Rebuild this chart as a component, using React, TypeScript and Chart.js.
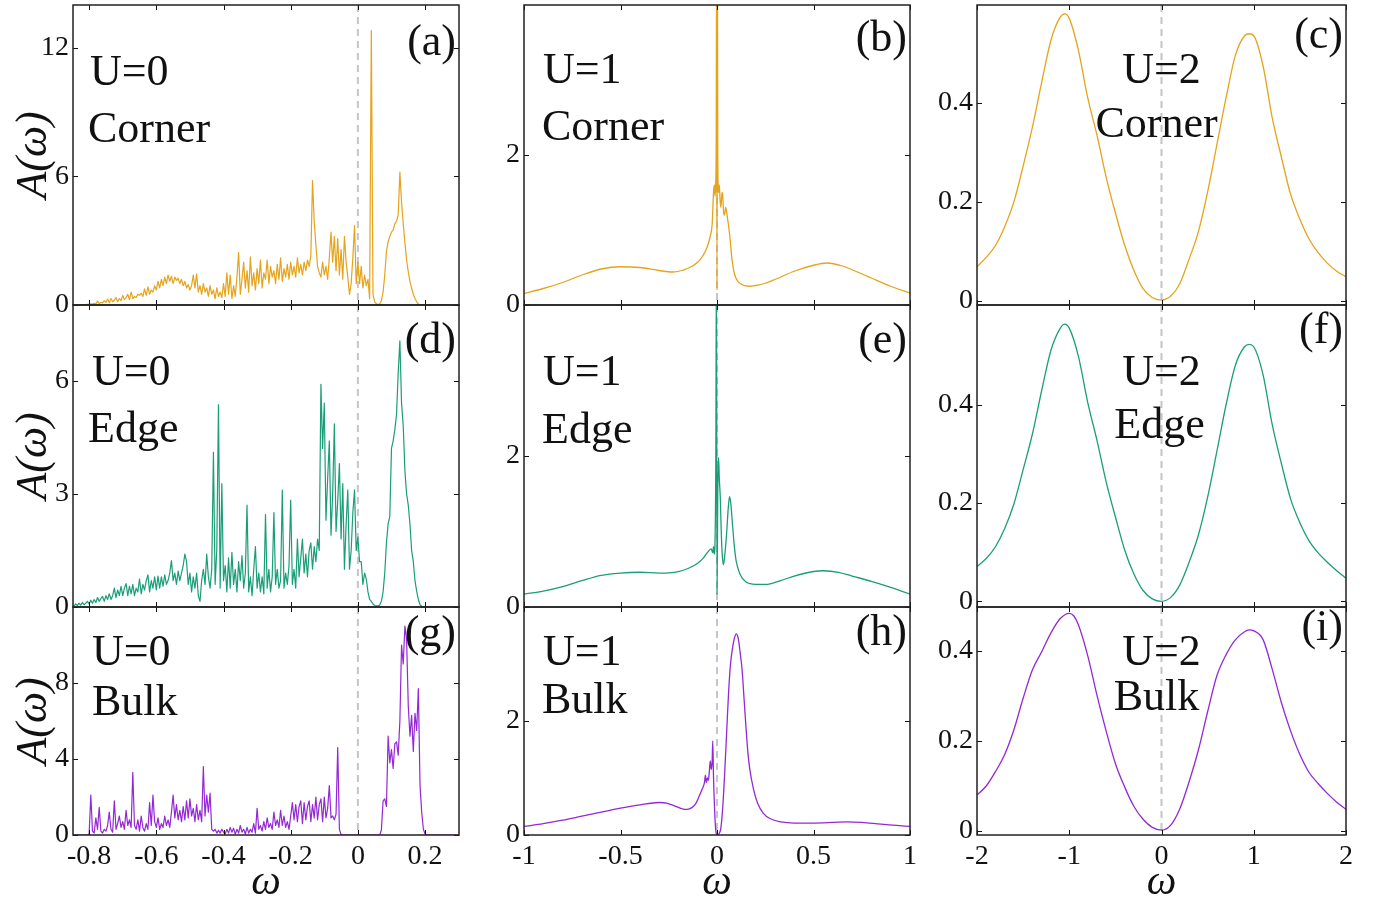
import React, { useEffect, useRef } from 'react';
import { Chart, registerables } from 'chart.js';

Chart.register(...registerables);

const FONT = "'Liberation Serif', 'Times New Roman', Times, serif";
const INK = '#111111';
const GOLD = '#E6A31C';
const GREEN = '#1B9E77';
const PURPLE = '#9428D6';

// ---------------- axis ticks ----------------
const X_TICKS_U0 = [-0.8, -0.6, -0.4, -0.2, 0, 0.2];
const X_LABELS_U0 = ['-0.8', '-0.6', '-0.4', '-0.2', '0', '0.2'];
const X_TICKS_U1 = [-1, -0.5, 0, 0.5, 1];
const X_LABELS_U1 = ['-1', '-0.5', '0', '0.5', '1'];
const X_TICKS_U2 = [-2, -1, 0, 1, 2];
const X_LABELS_U2 = ['-2', '-1', '0', '1', '2'];

const X_RANGE_U0 = [-0.848, 0.301];
const X_RANGE_U1 = [-1, 1];
const X_RANGE_U2 = [-2, 2];

const Y_TICKS_A = [0, 6, 12];
const Y_TICKS_D = [0, 3, 6];
const Y_TICKS_G = [0, 4, 8];
const Y_TICKS_U1 = [0, 2];
const Y_TICKS_U2 = [0, 0.2, 0.4];
const Y_LABELS_U2 = ['0', '0.2', '0.4'];

// ---------------- U = 0 spectra (sampled every 0.005 from each segment start) ----------------
const OMEGA_STEP_U0 = 0.005;

const A_CORNER_U0: [number, number[]][] = [
  [-0.85, [0, 0, 0, 0, 0, 0.01, 0.01, 0.02, 0.02, 0.03, 0.03, 0.05, 0.04, 0.08, 0.05, 0.18, 0.06, 0.12, 0.1, 0.2]],
  [-0.75, [0.12, 0.28, 0.1, 0.3, 0.15, 0.22, 0.35, 0.15, 0.3, 0.2, 0.45, 0.25, 0.35, 0.5, 0.25, 0.6, 0.3, 0.4, 0.35, 0.5]],
  [-0.65, [0.45, 0.55, 0.4, 0.75, 0.45, 0.85, 0.5, 0.7, 0.6, 0.9, 0.7, 1.1, 0.8, 1.2, 0.9, 1.3, 1.0, 1.4, 1.1, 1.35]],
  [-0.55, [1.0, 1.3, 1.15, 1.25, 1.0, 1.2, 0.9, 1.1, 0.8, 0.95, 0.7, 0.9, 1.4, 0.8, 1.45, 0.6, 0.9, 0.5, 1.0, 0.6]],
  [-0.45, [0.8, 0.4, 0.9, 0.5, 0.7, 0.3, 0.8, 0.4, 0.6, 0.35, 1.0, 0.4, 1.5, 0.5, 1.4, 0.3, 0.9, 0.4, 1.3, 2.45]],
  [-0.35, [0.5, 1.2, 2.0, 0.8, 1.6, 0.6, 2.25, 0.9, 1.5, 0.7, 1.7, 1.0, 2.1, 0.8, 1.5, 1.2, 2.1, 1.0, 1.8, 1.3]],
  [-0.25, [1.6, 1.0, 1.9, 1.2, 2.2, 1.1, 1.7, 1.3, 1.9, 1.2, 2.0, 1.4, 1.8, 1.3, 2.2, 1.5, 1.9, 1.4, 2.0, 1.6]],
  [-0.15, [2.1, 1.8, 2.3, 5.8, 3.9, 2.8, 1.8, 1.5, 1.3, 2.0, 1.4, 1.8, 1.2, 2.2, 3.4, 2.0, 3.2, 1.6, 3.1, 1.4]],
  [-0.05, [2.6, 1.2, 3.2, 2.0, 1.3, 0.5, 1.0, 2.2, 3.7, 1.0, 2.0, 1.0, 1.8, 0.8, 1.4, 0.9, 1.2, 0.3, 12.8, 0.5]],
  [0.05, [0.15, 0.06, 0.03, 0.05, 0.2, 0.6, 1.4, 2.5, 2.95, 3.2, 3.4, 3.5, 3.8, 3.9, 4.2, 6.2, 4.8, 3.8, 2.9, 2.1]],
  [0.15, [1.55, 1.1, 0.78, 0.5, 0.3, 0.15, 0.05, 0.01, 0, 0, 0, 0, 0, 0, 0, 0, 0, 0, 0, 0]],
  [0.25, [0, 0, 0, 0, 0, 0, 0, 0, 0, 0, 0]],
];

const A_EDGE_U0: [number, number[]][] = [
  [-0.85, [0.05, 0.03, 0.08, 0.04, 0.1, 0.05, 0.12, 0.06, 0.1, 0.15, 0.08, 0.18, 0.1, 0.2, 0.12, 0.25, 0.15, 0.22, 0.28, 0.15]],
  [-0.75, [0.3, 0.2, 0.35, 0.2, 0.3, 0.5, 0.25, 0.45, 0.3, 0.55, 0.3, 0.5, 0.62, 0.3, 0.55, 0.35, 0.6, 0.3, 0.5, 0.4]],
  [-0.65, [0.74, 0.35, 0.6, 0.45, 0.7, 0.85, 0.4, 0.7, 0.5, 0.8, 0.45, 0.82, 0.5, 0.8, 0.55, 0.85, 0.6, 0.7, 0.9, 1.23]],
  [-0.55, [0.7, 0.9, 0.6, 0.95, 0.7, 0.9, 1.1, 1.4, 1.2, 0.6, 0.9, 0.4, 0.8, 0.5, 0.9, 0.3, 0.15, 0.7, 1.0, 0.6]],
  [-0.45, [1.4, 0.8, 0.5, 1.0, 4.1, 0.6, 1.5, 5.36, 0.5, 3.27, 0.7, 1.1, 0.4, 1.3, 0.5, 1.45, 0.6, 1.0, 0.4, 1.2]],
  [-0.35, [0.7, 1.36, 0.5, 0.9, 2.7, 0.4, 0.8, 0.3, 1.0, 1.6, 0.5, 0.9, 0.4, 0.8, 0.35, 2.45, 0.5, 1.0, 0.4, 0.8]],
  [-0.25, [2.5, 0.6, 1.0, 0.5, 0.7, 3.1, 0.5, 0.9, 0.6, 1.1, 2.83, 0.6, 1.0, 0.5, 1.8, 0.8, 1.3, 1.8, 0.9, 1.4]],
  [-0.15, [0.8, 1.5, 1.7, 1.0, 1.6, 1.2, 1.8, 1.5, 5.9, 4.2, 5.4, 2.3, 3.4, 4.4, 1.9, 3.0, 4.85, 2.0, 2.8, 3.8]],
  [-0.05, [1.8, 3.27, 1.0, 2.2, 3.1, 1.0, 1.5, 2.5, 3.1, 1.5, 1.85, 1.2, 1.2, 0.6, 0.9, 0.74, 0.4, 0.2, 0.15, 0.08]],
  [0.05, [0.04, 0.03, 0.03, 0.05, 0.15, 0.4, 0.9, 1.7, 2.2, 2.4, 4.2, 4.4, 4.7, 5.1, 6.2, 7.05, 5.4, 4.8, 3.6, 3.0]],
  [0.15, [2.7, 2.2, 1.5, 1.2, 0.7, 0.42, 0.2, 0.06, 0.02, 0.01, 0, 0, 0, 0, 0, 0, 0, 0, 0, 0]],
  [0.25, [0, 0, 0, 0, 0, 0, 0, 0, 0, 0, 0]],
];

const A_BULK_U0: [number, number[]][] = [
  [-0.85, [0, 0, 0, 0, 0, 0, 0, 0, 0, 0, 0.05, 2.1, 0.2, 0.1, 0.9, 0.3, 1.45, 0.2, 0.1, 0.3]],
  [-0.75, [0.2, 0.5, 1.2, 0.3, 0.15, 1.8, 0.3, 0.6, 1.0, 0.4, 0.7, 0.3, 1.3, 0.5, 0.8, 0.4, 3.3, 0.5, 0.3, 0.8]],
  [-0.65, [0.2, 1.0, 0.4, 0.2, 0.6, 0.3, 1.7, 0.5, 2.1, 0.7, 0.4, 0.9, 0.3, 0.6, 0.4, 1.0, 0.5, 0.8, 0.4, 1.2]],
  [-0.55, [2.1, 0.9, 1.6, 0.8, 1.3, 0.7, 1.5, 0.8, 1.8, 0.9, 1.9, 1.0, 1.4, 0.7, 1.6, 0.8, 1.3, 0.7, 3.6, 1.0]],
  [-0.45, [2.1, 1.2, 2.2, 0.3, 0.2, 0.3, 0.1, 0.25, 0.1, 0.3, 0.15, 0.05, 0.3, 0.1, 0.4, 0.15, 0.35, 0.05, 0.3, 0.1]],
  [-0.35, [0.5, 0.15, 0.3, 0.05, 0.4, 0.1, 0.3, 0.15, 0.6, 0.1, 1.4, 0.3, 0.5, 0.2, 0.7, 0.3, 0.9, 0.4, 0.6, 0.3]],
  [-0.25, [1.2, 0.5, 0.8, 0.4, 1.3, 0.5, 1.0, 0.4, 0.7, 0.3, 1.0, 1.7, 0.8, 1.6, 0.7, 1.5, 1.8, 0.6, 1.7, 0.8]],
  [-0.15, [1.5, 1.8, 0.7, 1.6, 0.9, 2.0, 0.8, 1.6, 1.9, 0.7, 2.0, 0.9, 1.4, 2.6, 0.9, 1.0, 0.8, 1.1, 4.6, 0.3]],
  [-0.05, [0.02, 0, 0, 0, 0, 0, 0, 0, 0, 0, 0, 0, 0, 0, 0, 0, 0, 0, 0, 0]],
  [0.05, [0, 0, 0, 0, 0.26, 1.8, 1.9, 1.5, 5.2, 3.8, 4.5, 3.5, 4.8, 4.9, 4.2, 6.0, 10.0, 9.0, 11.0, 10.3]],
  [0.15, [6.8, 5.2, 6.3, 4.4, 6.4, 5.5, 7.7, 2.6, 1.2, 0.3, 0.05, 0, 0, 0, 0, 0, 0, 0, 0, 0]],
  [0.25, [0, 0, 0, 0, 0, 0, 0, 0, 0, 0, 0]],
];

// ---------------- U = 1 spectra: [omega, A] ----------------
const A_CORNER_U1: [number, number][] = [
  [-1, 0.155], [-0.9, 0.22], [-0.8, 0.3], [-0.7, 0.4], [-0.6, 0.48], [-0.5, 0.51], [-0.4, 0.5], [-0.3, 0.46],
  [-0.23, 0.44], [-0.15, 0.49], [-0.1, 0.57], [-0.07, 0.67], [-0.05, 0.78], [-0.035, 0.92], [-0.025, 1.08],
  [-0.018, 1.5], [-0.014, 1.6], [-0.01, 1.45], [-0.007, 1.6], [-0.004, 2.2], [-0.002, 4.6], [0, 0.2],
  [0.002, 4.6], [0.004, 2.0], [0.008, 1.5], [0.012, 1.6], [0.016, 1.4], [0.02, 1.3], [0.026, 1.5], [0.03, 1.45],
  [0.035, 1.2], [0.04, 1.22], [0.045, 1.3], [0.052, 1.2], [0.065, 0.95], [0.078, 0.6], [0.09, 0.42],
  [0.104, 0.33], [0.13, 0.27], [0.17, 0.25], [0.2, 0.26], [0.25, 0.29], [0.3, 0.34], [0.4, 0.45], [0.5, 0.53],
  [0.57, 0.56], [0.65, 0.52], [0.7, 0.47], [0.8, 0.36], [0.9, 0.25], [1, 0.16],
];

const A_EDGE_U1: [number, number][] = [
  [-1, 0.17], [-0.9, 0.21], [-0.8, 0.27], [-0.7, 0.35], [-0.6, 0.42], [-0.5, 0.45], [-0.4, 0.46], [-0.3, 0.45],
  [-0.2, 0.47], [-0.15, 0.51], [-0.1, 0.58], [-0.07, 0.65], [-0.05, 0.72], [-0.03, 0.77], [-0.022, 0.72],
  [-0.018, 0.8], [-0.014, 0.7], [-0.01, 0.9], [-0.006, 2.0], [-0.003, 4.6], [0, 0.17], [0.004, 1.5],
  [0.008, 1.98], [0.012, 1.7], [0.017, 1.45], [0.022, 1.0], [0.027, 0.7], [0.033, 0.56], [0.04, 0.68],
  [0.05, 0.98], [0.058, 1.3], [0.065, 1.46], [0.072, 1.36], [0.08, 1.1], [0.09, 0.8], [0.1, 0.6], [0.12, 0.43],
  [0.15, 0.33], [0.2, 0.3], [0.26, 0.3], [0.33, 0.35], [0.4, 0.41], [0.5, 0.47], [0.55, 0.48], [0.63, 0.46],
  [0.7, 0.41], [0.8, 0.34], [0.9, 0.26], [1, 0.17],
];

const A_BULK_U1: [number, number][] = [
  [-1, 0.15], [-0.9, 0.2], [-0.8, 0.26], [-0.7, 0.33], [-0.6, 0.4], [-0.5, 0.47], [-0.4, 0.53], [-0.3, 0.57],
  [-0.26, 0.56], [-0.22, 0.51], [-0.18, 0.46], [-0.155, 0.45], [-0.13, 0.48], [-0.11, 0.55], [-0.09, 0.7],
  [-0.075, 0.82], [-0.065, 0.92], [-0.06, 1.05], [-0.055, 0.92], [-0.05, 1.0], [-0.045, 0.96], [-0.04, 1.1],
  [-0.035, 1.3], [-0.03, 1.15], [-0.025, 1.3], [-0.022, 1.65], [-0.018, 1.0], [-0.013, 0.5], [-0.008, 0.15],
  [-0.003, 0.02], [0.005, 0], [0.012, 0.03], [0.02, 0.12], [0.03, 0.5], [0.04, 1.1], [0.05, 1.8], [0.06, 2.5],
  [0.07, 3.0], [0.08, 3.27], [0.09, 3.45], [0.1, 3.53], [0.11, 3.45], [0.12, 3.2], [0.13, 2.9], [0.14, 2.4],
  [0.15, 1.9], [0.16, 1.45], [0.17, 1.15], [0.19, 0.79], [0.21, 0.56], [0.24, 0.38], [0.28, 0.28], [0.33, 0.23],
  [0.4, 0.21], [0.5, 0.21], [0.6, 0.22], [0.67, 0.23], [0.75, 0.22], [0.85, 0.19], [0.93, 0.17], [1, 0.15],
];

// ---------------- U = 2 spectra: [omega, A] ----------------
const A_CORNER_U2: [number, number][] = [
  [-2, 0.069], [-1.9, 0.088], [-1.8, 0.112], [-1.7, 0.15], [-1.6, 0.2], [-1.5, 0.272], [-1.4, 0.35], [-1.3, 0.44],
  [-1.2, 0.525], [-1.1, 0.572], [-1.05, 0.579], [-1, 0.57], [-0.9, 0.505], [-0.8, 0.41], [-0.7, 0.335],
  [-0.6, 0.25], [-0.5, 0.178], [-0.4, 0.113], [-0.3, 0.062], [-0.2, 0.025], [-0.1, 0.007], [0, 0.002],
  [0.1, 0.01], [0.2, 0.036], [0.3, 0.085], [0.4, 0.14], [0.5, 0.22], [0.6, 0.315], [0.7, 0.41], [0.8, 0.495],
  [0.9, 0.535], [0.95, 0.539], [1, 0.535], [1.1, 0.475], [1.2, 0.37], [1.3, 0.29], [1.4, 0.215], [1.5, 0.165],
  [1.6, 0.125], [1.7, 0.097], [1.8, 0.076], [1.9, 0.06], [2, 0.049],
];

const A_EDGE_U2: [number, number][] = [
  [-2, 0.071], [-1.9, 0.087], [-1.8, 0.111], [-1.7, 0.148], [-1.6, 0.198], [-1.5, 0.268], [-1.4, 0.34], [-1.3, 0.428],
  [-1.2, 0.51], [-1.1, 0.555], [-1.05, 0.564], [-1, 0.556], [-0.9, 0.498], [-0.8, 0.405], [-0.7, 0.328],
  [-0.6, 0.243], [-0.5, 0.172], [-0.4, 0.105], [-0.3, 0.056], [-0.2, 0.022], [-0.1, 0.005], [0, 0],
  [0.1, 0.008], [0.2, 0.034], [0.3, 0.08], [0.4, 0.135], [0.5, 0.212], [0.6, 0.305], [0.7, 0.4], [0.8, 0.48],
  [0.9, 0.518], [0.95, 0.523], [1, 0.518], [1.1, 0.462], [1.2, 0.36], [1.3, 0.28], [1.4, 0.208], [1.5, 0.16],
  [1.6, 0.123], [1.7, 0.098], [1.8, 0.079], [1.9, 0.062], [2, 0.047],
];

const A_BULK_U2: [number, number][] = [
  [-2, 0.08], [-1.9, 0.1], [-1.8, 0.132], [-1.7, 0.17], [-1.6, 0.225], [-1.5, 0.295], [-1.4, 0.358], [-1.3, 0.398],
  [-1.2, 0.44], [-1.1, 0.472], [-1, 0.484], [-0.95, 0.478], [-0.9, 0.458], [-0.8, 0.39], [-0.7, 0.302],
  [-0.6, 0.222], [-0.5, 0.15], [-0.4, 0.098], [-0.3, 0.055], [-0.2, 0.026], [-0.1, 0.008], [0, 0.002],
  [0.1, 0.013], [0.2, 0.05], [0.3, 0.11], [0.4, 0.18], [0.5, 0.265], [0.6, 0.345], [0.7, 0.392], [0.8, 0.425],
  [0.9, 0.443], [0.95, 0.447], [1, 0.445], [1.1, 0.426], [1.2, 0.36], [1.3, 0.285], [1.4, 0.222], [1.5, 0.17],
  [1.6, 0.13], [1.7, 0.105], [1.8, 0.083], [1.9, 0.064], [2, 0.048],
];

// ---------------- layout (page pixels) ----------------
const PAGE_W = 1381;
const PAGE_H = 901;
const COL_L = [73, 524, 977];
const COL_R = [459, 910, 1346];
const ROW_T = [5, 305, 607];
const ROW_B = [305, 607, 835];
const CANVAS_LEFT = [0, 470, 925];
const PAD_R = [10, 14, 20];
const PAD_V = 24;

function expand(segs: [number, number[]][], step: number) {
  const pts: { x: number; y: number }[] = [];
  for (const [start, vals] of segs) {
    vals.forEach((v, i) => pts.push({ x: +(start + i * step).toFixed(4), y: v }));
  }
  return pts;
}
function pairs(p: [number, number][]) {
  return p.map(([x, y]) => ({ x, y }));
}

type PanelDef = {
  row: number;
  col: number;
  points: { x: number; y: number }[];
  color: string;
  yRange: number[];
  yTicks: number[];
  yLabels: string[];
  lines: string[];
  tag: string;
  textX: (number | null)[];
  textCenterShift: number[];
  textY: number[];
  tagY: number;
  smooth: boolean;
};

const COL_X = [
  { range: X_RANGE_U0, ticks: X_TICKS_U0, labels: X_LABELS_U0 },
  { range: X_RANGE_U1, ticks: X_TICKS_U1, labels: X_LABELS_U1 },
  { range: X_RANGE_U2, ticks: X_TICKS_U2, labels: X_LABELS_U2 },
];

const PANELS: PanelDef[] = [
  { row: 0, col: 0, points: expand(A_CORNER_U0, OMEGA_STEP_U0), color: GOLD, yRange: [0, 14], yTicks: Y_TICKS_A, yLabels: Y_TICKS_A.map(String), lines: ['U=0', 'Corner'], tag: '(a)', textX: [17, 15], textCenterShift: [0, 0], textY: [80, 137], tagY: 50, smooth: false },
  { row: 1, col: 0, points: expand(A_EDGE_U0, OMEGA_STEP_U0), color: GREEN, yRange: [0, 8], yTicks: Y_TICKS_D, yLabels: Y_TICKS_D.map(String), lines: ['U=0', 'Edge'], tag: '(d)', textX: [19, 15], textCenterShift: [0, 0], textY: [80, 137], tagY: 48, smooth: false },
  { row: 2, col: 0, points: expand(A_BULK_U0, OMEGA_STEP_U0), color: PURPLE, yRange: [0, 12], yTicks: Y_TICKS_G, yLabels: Y_TICKS_G.map(String), lines: ['U=0', 'Bulk'], tag: '(g)', textX: [19, 19], textCenterShift: [0, 0], textY: [58, 108], tagY: 39, smooth: false },
  { row: 0, col: 1, points: pairs(A_CORNER_U1), color: GOLD, yRange: [0, 4], yTicks: Y_TICKS_U1, yLabels: Y_TICKS_U1.map(String), lines: ['U=1', 'Corner'], tag: '(b)', textX: [19, 18], textCenterShift: [0, 0], textY: [78, 135], tagY: 46, smooth: true },
  { row: 1, col: 1, points: pairs(A_EDGE_U1), color: GREEN, yRange: [0, 4], yTicks: Y_TICKS_U1, yLabels: Y_TICKS_U1.map(String), lines: ['U=1', 'Edge'], tag: '(e)', textX: [19, 18], textCenterShift: [0, 0], textY: [80, 138], tagY: 48, smooth: true },
  { row: 2, col: 1, points: pairs(A_BULK_U1), color: PURPLE, yRange: [0, 4], yTicks: Y_TICKS_U1, yLabels: Y_TICKS_U1.map(String), lines: ['U=1', 'Bulk'], tag: '(h)', textX: [19, 18], textCenterShift: [0, 0], textY: [58, 106], tagY: 38, smooth: true },
  { row: 0, col: 2, points: pairs(A_CORNER_U2), color: GOLD, yRange: [-0.008, 0.597], yTicks: Y_TICKS_U2, yLabels: Y_LABELS_U2, lines: ['U=2', 'Corner'], tag: '(c)', textX: [null, null], textCenterShift: [0, -5], textY: [78, 132], tagY: 43, smooth: true },
  { row: 1, col: 2, points: pairs(A_EDGE_U2), color: GREEN, yRange: [-0.0116, 0.603], yTicks: Y_TICKS_U2, yLabels: Y_LABELS_U2, lines: ['U=2', 'Edge'], tag: '(f)', textX: [null, null], textCenterShift: [0, -2], textY: [80, 133], tagY: 38, smooth: true },
  { row: 2, col: 2, points: pairs(A_BULK_U2), color: PURPLE, yRange: [-0.009, 0.498], yTicks: Y_TICKS_U2, yLabels: Y_LABELS_U2, lines: ['U=2', 'Bulk'], tag: '(i)', textX: [null, null], textCenterShift: [0, -5], textY: [58, 103], tagY: 33, smooth: true },
];

function panelBox(def: PanelDef) {
  const left = CANVAS_LEFT[def.col];
  const top = ROW_T[def.row] - PAD_V;
  const w = COL_R[def.col] + PAD_R[def.col] - left;
  const h = (def.row === 2 ? PAGE_H : ROW_B[def.row] + PAD_V) - top;
  return { left, top, w, h };
}

function makeDecor(def: PanelDef) {
  const xTicks = COL_X[def.col].ticks;
  return {
    id: 'panelDecor',
    beforeDatasetsDraw(chart: any) {
      const { ctx, chartArea } = chart;
      const x0 = chart.scales.x.getPixelForValue(0);
      ctx.save();
      ctx.strokeStyle = '#c4c4cc';
      ctx.lineWidth = 2;
      ctx.setLineDash([7, 5]);
      ctx.beginPath();
      ctx.moveTo(x0, chartArea.top);
      ctx.lineTo(x0, chartArea.bottom);
      ctx.stroke();
      ctx.restore();
    },
    afterDatasetsDraw(chart: any) {
      const { ctx, chartArea } = chart;
      const { left, right, top, bottom } = chartArea;
      const xs = chart.scales.x;
      const ys = chart.scales.y;
      ctx.save();
      ctx.strokeStyle = INK;
      ctx.lineWidth = 1;
      ctx.beginPath();
      for (const v of xTicks) {
        const p = Math.round(xs.getPixelForValue(v)) + 0.5;
        ctx.moveTo(p, top);
        ctx.lineTo(p, top + 5);
        ctx.moveTo(p, bottom);
        ctx.lineTo(p, bottom - 5);
      }
      for (const v of def.yTicks) {
        const p = Math.round(ys.getPixelForValue(v)) + 0.5;
        ctx.moveTo(left, p);
        ctx.lineTo(left + 5, p);
        ctx.moveTo(right, p);
        ctx.lineTo(right - 5, p);
      }
      ctx.stroke();
      ctx.lineWidth = 1.5;
      ctx.strokeStyle = '#222';
      ctx.strokeRect(left, top, right - left, bottom - top);

      ctx.fillStyle = INK;
      ctx.font = `44px ${FONT}`;
      ctx.textBaseline = 'alphabetic';
      def.lines.forEach((t, i) => {
        const tx = def.textX[i];
        if (tx === null) {
          ctx.textAlign = 'center';
          ctx.fillText(t, (left + right) / 2 + def.textCenterShift[i], top + def.textY[i]);
        } else {
          ctx.textAlign = 'left';
          ctx.fillText(t, left + tx, top + def.textY[i]);
        }
      });
      ctx.textAlign = 'right';
      ctx.fillText(def.tag, right - 3, top + def.tagY);
      ctx.restore();
    },
  };
}

function buildConfig(def: PanelDef) {
  const cx = COL_X[def.col];
  const yAxisW = COL_L[def.col] - CANVAS_LEFT[def.col];
  const xAxisH = PAGE_H - ROW_B[2];
  const bottomRow = def.row === 2;
  return {
    type: 'line',
    data: {
      datasets: [
        {
          data: def.points,
          borderColor: def.color,
          borderWidth: def.col === 0 ? 1.2 : 1.3,
          borderJoinStyle: 'round',
          pointRadius: 0,
          pointHoverRadius: 0,
          fill: false,
          tension: 0,
          cubicInterpolationMode: def.smooth ? 'monotone' : 'default',
        },
      ],
    },
    options: {
      animation: false,
      responsive: false,
      maintainAspectRatio: false,
      events: [],
      layout: {
        padding: { left: 0, right: PAD_R[def.col], top: PAD_V, bottom: bottomRow ? 0 : PAD_V },
      },
      plugins: { legend: { display: false }, tooltip: { enabled: false }, title: { display: false } },
      scales: {
        x: {
          type: 'linear',
          min: cx.range[0],
          max: cx.range[1],
          display: bottomRow,
          afterBuildTicks: (s: any) => {
            s.ticks = cx.ticks.map((value) => ({ value }));
          },
          afterFit: (s: any) => {
            s.height = bottomRow ? xAxisH : 0;
          },
          ticks: {
            autoSkip: false,
            maxRotation: 0,
            minRotation: 0,
            padding: 5,
            color: INK,
            font: { family: FONT, size: 28 },
            callback: (_v: any, i: number) => cx.labels[i],
          },
          grid: { display: false, drawTicks: false },
          border: { display: false },
          title: {
            display: bottomRow,
            text: 'ω',
            color: INK,
            font: { family: FONT, size: 42, style: 'italic', lineHeight: 0.86 },
            padding: { top: 0, bottom: 0 },
          },
        },
        y: {
          type: 'linear',
          min: def.yRange[0],
          max: def.yRange[1],
          afterBuildTicks: (s: any) => {
            s.ticks = def.yTicks.map((value) => ({ value }));
          },
          afterFit: (s: any) => {
            s.width = yAxisW;
          },
          ticks: {
            padding: 4,
            color: INK,
            font: { family: FONT, size: 28 },
            callback: (_v: any, i: number) => def.yLabels[i],
          },
          grid: { display: false, drawTicks: false },
          border: { display: false },
          title: {
            display: def.col === 0,
            text: 'A(ω)',
            color: INK,
            font: { family: FONT, size: 44, style: 'italic', lineHeight: 1.2 },
            padding: { top: 8, bottom: 0 },
          },
        },
      },
    },
    plugins: [makeDecor(def)],
  } as any;
}

function Panel({ def }: { def: PanelDef }) {
  const ref = useRef<HTMLCanvasElement | null>(null);
  const box = panelBox(def);
  useEffect(() => {
    if (!ref.current) return;
    const chart = new Chart(ref.current, buildConfig(def));
    return () => chart.destroy();
  }, []);
  return (
    <canvas
      ref={ref}
      width={box.w}
      height={box.h}
      style={{ position: 'absolute', left: box.left, top: box.top, width: box.w, height: box.h }}
    />
  );
}

export default function App() {
  return (
    <div
      style={{
        position: 'absolute',
        left: 0,
        top: 0,
        width: PAGE_W,
        height: PAGE_H,
        overflow: 'hidden',
        background: '#ffffff',
      }}
    >
      {PANELS.map((def, i) => (
        <Panel key={i} def={def} />
      ))}
    </div>
  );
}
